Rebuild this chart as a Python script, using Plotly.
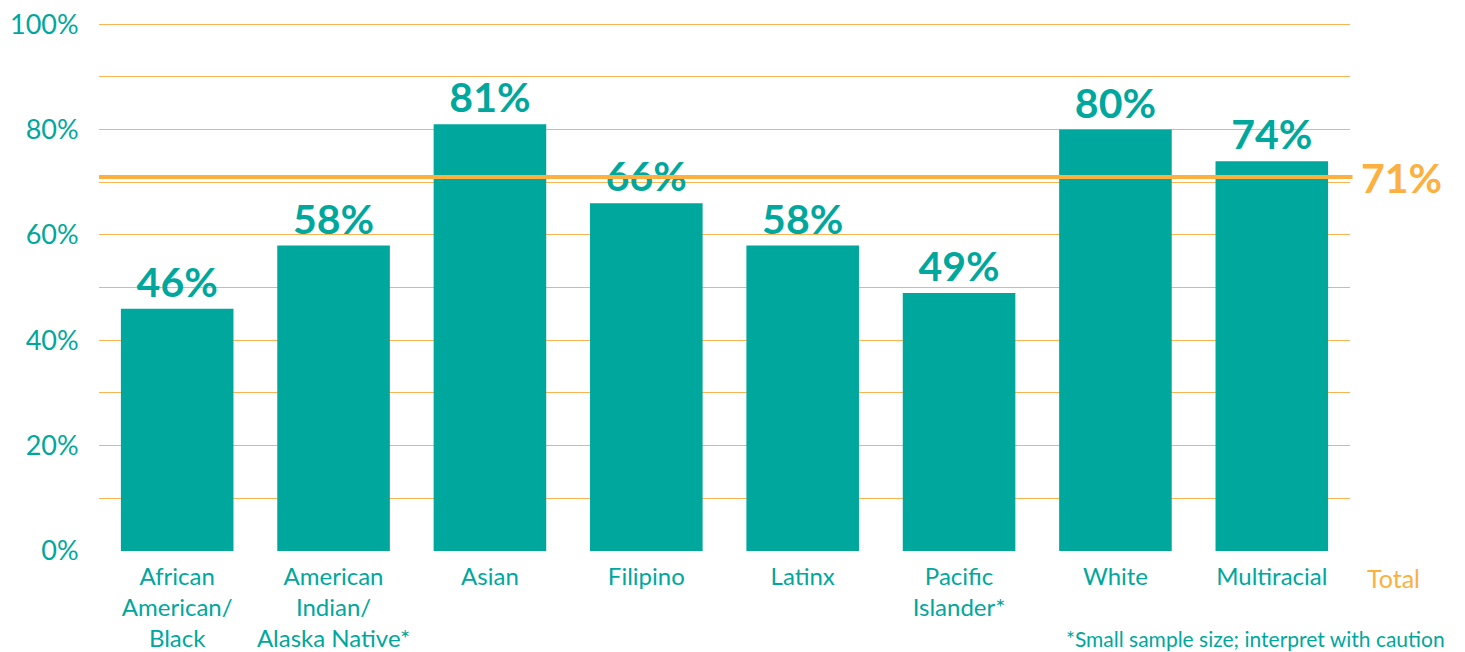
import plotly.graph_objects as go

# Share of students by race/ethnicity, with the overall total as a reference line
categories = [
    "African<br>American/<br>Black",
    "American<br>Indian/<br>Alaska Native*",
    "Asian",
    "Filipino",
    "Latinx",
    "Pacific<br>Islander*",
    "White",
    "Multiracial",
]
values = [46, 58, 81, 66, 58, 49, 80, 74]
total_value = 71
y_ticks = [0, 20, 40, 60, 80, 100]
y_tick_labels = [f"{v}%" for v in y_ticks]
footnote = "*Small sample size; interpret with caution"

TEAL = "#00A79D"
ORANGE = "#FBB040"
GRID = "#FBB451"
FONT = "Lato, 'Open Sans', sans-serif"

fig = go.Figure()
fig.add_trace(go.Bar(
    x=categories,
    y=values,
    marker=dict(color=TEAL, line=dict(width=0)),
    width=0.72,
    text=[f"{v}%" for v in values],
    textposition="outside",
    textfont=dict(family=FONT, size=41, color=TEAL, weight="bold"),
    cliponaxis=False,
    hoverinfo="skip",
))

# Overall total line drawn over the bars
fig.add_shape(
    type="line", xref="paper", yref="y",
    x0=0, x1=1.002, y0=total_value, y1=total_value,
    line=dict(color=ORANGE, width=4), layer="above",
)
fig.add_annotation(
    xref="paper", yref="y", x=1.007, y=total_value,
    text=f"{total_value}%", showarrow=False, xanchor="left", yanchor="middle",
    font=dict(family=FONT, size=41, color=ORANGE, weight="bold"),
)
fig.add_annotation(
    xref="paper", yref="paper", x=1.012, y=0, yshift=-27,
    text="Total", showarrow=False, xanchor="left", yanchor="middle",
    font=dict(family=FONT, size=25, color=ORANGE),
)
fig.add_annotation(
    xref="paper", yref="paper", x=1.0775, y=0, yshift=-87,
    text=footnote, showarrow=False, xanchor="right", yanchor="middle",
    font=dict(family=FONT, size=21, color=TEAL),
)

fig.update_layout(
    width=1465, height=652,
    margin=dict(l=99, r=115, t=19, b=101, autoexpand=False),
    paper_bgcolor="white", plot_bgcolor="white",
    showlegend=False,
    font=dict(family=FONT, color=TEAL),
    xaxis=dict(
        showgrid=False, showline=False, zeroline=False, automargin=False,
        ticks="outside", ticklen=4, tickcolor="rgba(0,0,0,0)",
        tickfont=dict(family=FONT, size=24, color=TEAL),
        tickangle=0,
    ),
    yaxis=dict(
        range=[0, 101], tickvals=y_ticks, ticktext=y_tick_labels,
        showgrid=True, gridcolor=GRID, gridwidth=1,
        zeroline=False, showline=False, automargin=False,
        ticks="outside", ticklen=14, tickcolor="rgba(0,0,0,0)",
        tickfont=dict(family=FONT, size=27, color=TEAL),
        minor=dict(dtick=10, showgrid=True, gridcolor=GRID, gridwidth=1),
    ),
)

fig.write_html("out.html")
